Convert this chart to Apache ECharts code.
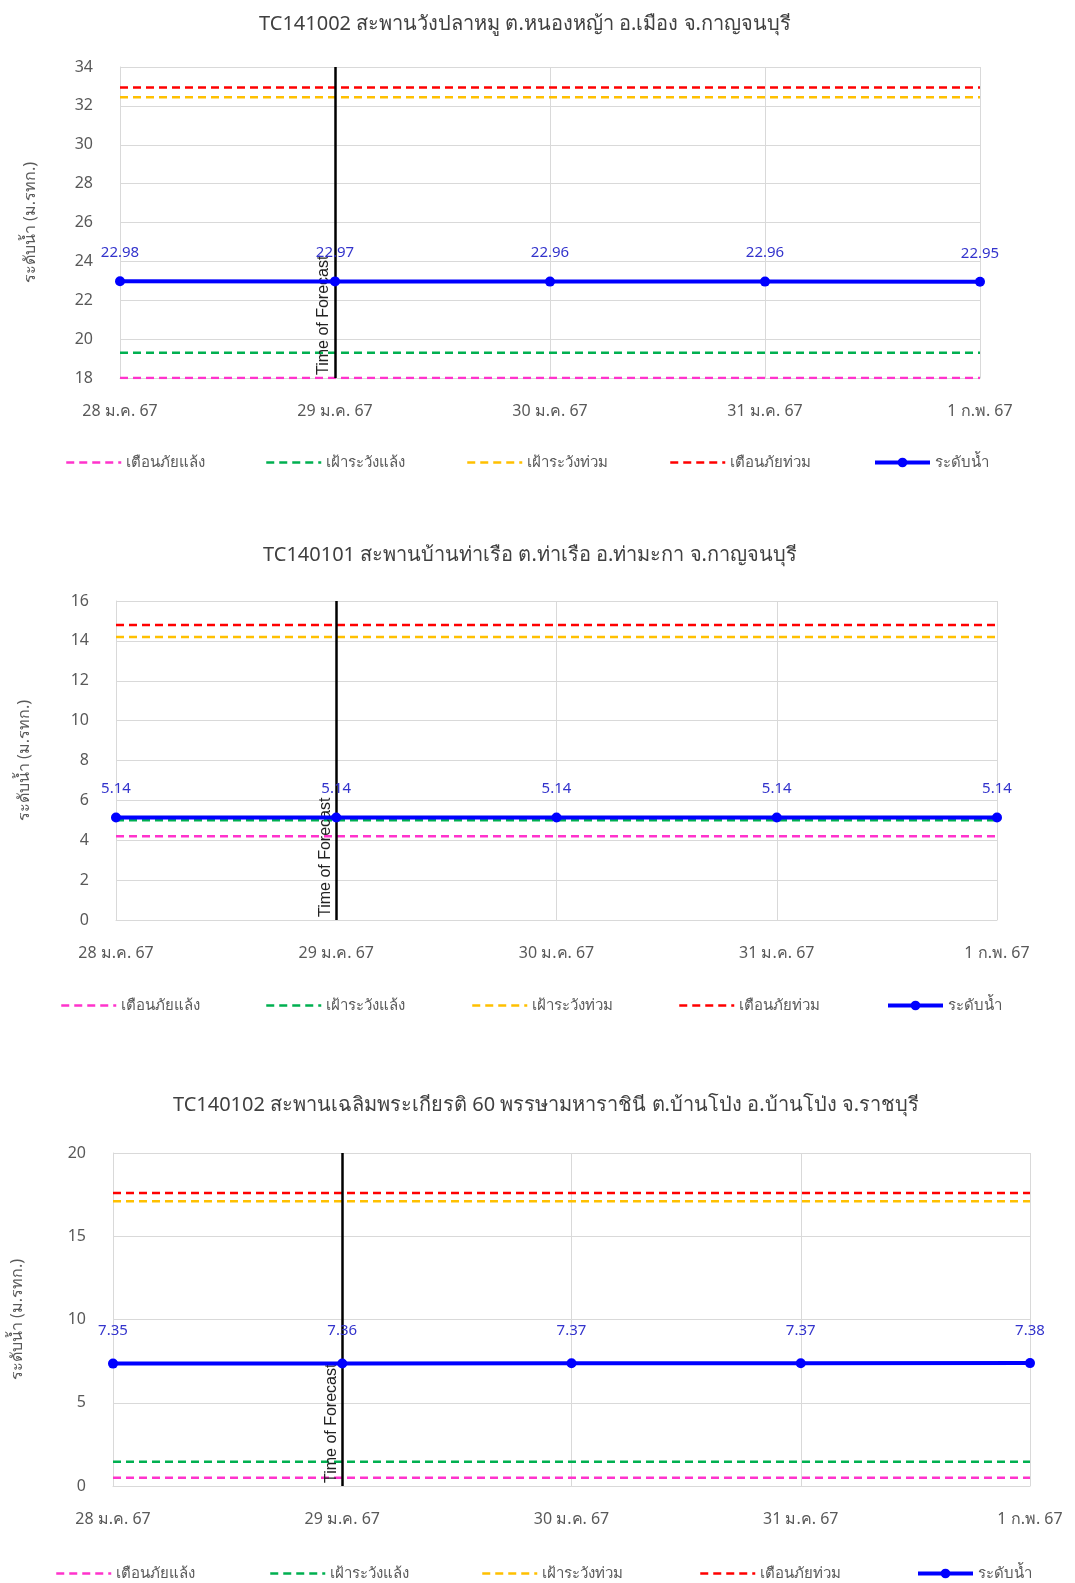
<!DOCTYPE html>
<html>
<head>
<meta charset="utf-8">
<script src="https://cdn.jsdelivr.net/npm/echarts@6/dist/echarts.min.js"></script>
<style>
html,body{margin:0;padding:0;background:#fff;}
#chart{width:1075px;height:1583px;}
</style>
</head>
<body>
<div id="chart"></div>
<script>
// ---- data ----
const categories = ['28 ม.ค. 67', '29 ม.ค. 67', '30 ม.ค. 67', '31 ม.ค. 67', '1 ก.พ. 67'];
const forecastDate = '29 ม.ค. 67';
const seriesNames = ['เตือนภัยแล้ง', 'เฝ้าระวังแล้ง', 'เฝ้าระวังท่วม', 'เตือนภัยท่วม', 'ระดับน้ำ'];

const titles = [
  'TC141002 สะพานวังปลาหมู ต.หนองหญ้า อ.เมือง จ.กาญจนบุรี',
  'TC140101 สะพานบ้านท่าเรือ ต.ท่าเรือ อ.ท่ามะกา จ.กาญจนบุรี',
  'TC140102 สะพานเฉลิมพระเกียรติ 60 พรรษามหาราชินี ต.บ้านโป่ง อ.บ้านโป่ง จ.ราชบุรี'
];

const station1Level = [22.98, 22.97, 22.96, 22.96, 22.95];
const station2Level = [5.14, 5.14, 5.14, 5.14, 5.14];
const station3Level = [7.35, 7.36, 7.37, 7.37, 7.38];

// thresholds: drought warning, drought watch, flood watch, flood warning
const station1Thresholds = [18.0, 19.3, 32.45, 32.95];
const station2Thresholds = [4.2, 5.0, 14.2, 14.8];
const station3Thresholds = [0.5, 1.45, 17.1, 17.6];

const yAxis1 = {min: 18, max: 34, interval: 2};
const yAxis2 = {min: 0, max: 16, interval: 2};
const yAxis3 = {min: 0, max: 20, interval: 5};

const yAxisName = 'ระดับน้ำ (ม.รทก.)';
const forecastLabel = 'Time of Forecast';

// ---- layout / style ----
const FONT = '"Noto Sans", "DejaVu Sans", sans-serif';
const thresholdColors = ['#ff33cc', '#00b050', '#ffc000', '#ff0000'];
const levelColor = '#0000ff';
const gray = '#595959';

const levels = [station1Level, station2Level, station3Level];
const thresholds = [station1Thresholds, station2Thresholds, station3Thresholds];
const yAxes = [yAxis1, yAxis2, yAxis3];

const grids = [
  {left: 120, top: 67, width: 860, height: 311},
  {left: 116, top: 601, width: 881, height: 319},
  {left: 113, top: 1153, width: 917, height: 333}
];
const titlePos = [{x: 520, y: 9}, {x: 525, y: 540}, {x: 541, y: 1090}];
const xLabelMargin = [25, 25, 25];
const nameGaps = [82, 84, 88];
const labelDistance = [16, 16, 20];
const legendRows = [
  {y: 450, xs: [60, 260, 461, 664, 868]},
  {y: 993, xs: [55, 260, 466, 673, 881]},
  {y: 1561, xs: [50, 264, 476, 694, 911]}
];

const option = {
  backgroundColor: '#fff',
  animation: false,
  textStyle: {fontFamily: FONT},
  title: [],
  grid: [],
  xAxis: [],
  yAxis: [],
  legend: [],
  series: []
};

for (let c = 0; c < 3; c++) {
  option.title.push({
    text: titles[c], left: titlePos[c].x, top: titlePos[c].y, textAlign: 'center',
    textStyle: {fontSize: 20, fontWeight: 'normal', color: '#404040', fontFamily: FONT}
  });
  option.grid.push(Object.assign({containLabel: false, show: false}, grids[c]));
  option.xAxis.push({
    type: 'category', gridIndex: c, data: categories, boundaryGap: false,
    axisLine: {show: true, lineStyle: {color: '#d9d9d9'}},
    axisTick: {show: false},
    axisLabel: {color: gray, fontSize: 16, margin: xLabelMargin[c], fontFamily: FONT},
    splitLine: {show: true, lineStyle: {color: '#d9d9d9', width: 1}}
  });
  option.yAxis.push({
    type: 'value', gridIndex: c, min: yAxes[c].min, max: yAxes[c].max, interval: yAxes[c].interval,
    name: yAxisName, nameLocation: 'middle', nameGap: nameGaps[c],
    nameTextStyle: {color: gray, fontSize: 16, fontFamily: FONT},
    axisLine: {show: true, lineStyle: {color: '#d9d9d9'}},
    axisTick: {show: false},
    axisLabel: {color: gray, fontSize: 16, margin: 27, fontFamily: FONT},
    splitLine: {show: true, lineStyle: {color: '#d9d9d9', width: 1}}
  });
  for (let t = 0; t < 4; t++) {
    const v = thresholds[c][t];
    option.series.push({
      name: seriesNames[t], type: 'line', xAxisIndex: c, yAxisIndex: c,
      data: categories.map(() => v),
      symbol: 'none', showSymbol: false,
      lineStyle: {color: thresholdColors[t], width: 2.5, type: [8, 5]},
      itemStyle: {color: thresholdColors[t]},
      z: 2 + t
    });
  }
  option.series.push({
    name: seriesNames[4], type: 'line', xAxisIndex: c, yAxisIndex: c,
    data: levels[c],
    symbol: 'circle', symbolSize: 10,
    lineStyle: {color: levelColor, width: 4},
    itemStyle: {color: levelColor},
    label: {show: true, position: 'top', distance: labelDistance[c], color: '#3333cc', fontSize: 15, fontFamily: FONT,
      formatter: p => p.value.toFixed(2)},
    z: 10,
    markLine: {
      silent: true, symbol: 'none', animation: false,
      lineStyle: {color: '#000', width: 2.5, type: 'solid'},
      label: {show: true, formatter: forecastLabel, position: 'insideStartTop', color: '#222', fontSize: 16,
        fontFamily: '"Liberation Sans", Arial, sans-serif', distance: 3},
      data: [{xAxis: forecastDate}],
      z: 8
    }
  });
  for (let s = 0; s < 5; s++) {
    const isLevel = s === 4;
    const lg = {
      data: [seriesNames[s]], left: legendRows[c].xs[s], top: legendRows[c].y,
      itemWidth: 55, itemHeight: isLevel ? 12 : 10, itemGap: 4,
      selectedMode: false,
      textStyle: {color: gray, fontSize: 15, fontFamily: FONT}
    };
    if (!isLevel) {
      lg.itemStyle = {opacity: 0};
      lg.lineStyle = {width: 2.5};
    } else {
      lg.lineStyle = {width: 4};
    }
    option.legend.push(lg);
  }
}

const chart = echarts.init(document.getElementById('chart'), null, {renderer: 'canvas'});
chart.setOption(option);
</script>
</body>
</html>
